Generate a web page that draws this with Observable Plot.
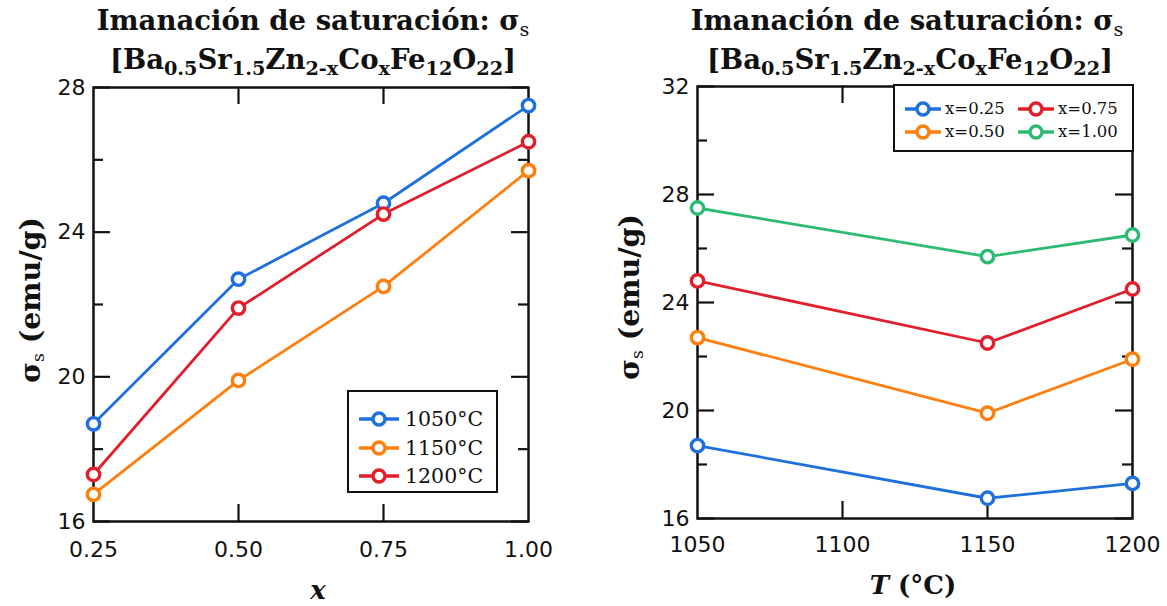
<!DOCTYPE html>
<html>
<head>
<meta charset="utf-8">
<script src="https://cdn.jsdelivr.net/npm/d3@7"></script>
<script src="https://cdn.jsdelivr.net/npm/@observablehq/plot@0.6"></script>
<style>
  html, body { margin: 0; padding: 0; background: #fff; }
  #fig { position: relative; width: 1167px; height: 606px; overflow: hidden; background: #fff; }
  .panel { position: absolute; top: 0; }
  .t { position: absolute; font-family: "DejaVu Serif", serif; font-weight: bold; color: #111;
       white-space: nowrap; transform: translateX(-50%); line-height: 1; }
  .t sub { font-size: 0.7em; vertical-align: -0.3em; line-height: 0; }
  .t sub.n { font-weight: normal; }
  .ylab { position: absolute; font-family: "DejaVu Serif", serif; font-weight: bold; color: #111;
          white-space: nowrap; font-size: 28.5px; line-height: 1; transform: translate(-50%, -50%) rotate(-90deg); }
  .ylab sub { font-size: 0.6em; vertical-align: -0.25em; line-height: 0; font-weight: normal; }
  .xlab { position: absolute; font-family: "DejaVu Serif", serif; font-weight: bold; color: #111;
          white-space: nowrap; font-size: 26px; line-height: 1; transform: translate(-50%, -50%); }
  .legend { position: absolute; background: #fff; border: 2px solid #111; box-sizing: border-box; }
  .item { position: absolute; display: flex; align-items: center; font-family: "DejaVu Serif", serif;
          color: #111; white-space: nowrap; line-height: 1; }
  .item svg { display: block; }
</style>
</head>
<body>
<div id="fig"></div>
<script>
// ---- data ----
const xValues = [0.25, 0.50, 0.75, 1.00];
const temps = [1050, 1150, 1200];
const tempLabels = ["1050°C", "1150°C", "1200°C"];
const xLabels = ["x=0.25", "x=0.50", "x=0.75", "x=1.00"];
const sigma1050 = [18.7, 22.7, 24.8, 27.5];
const sigma1150 = [16.75, 19.9, 22.5, 25.7];
const sigma1200 = [17.3, 21.9, 24.5, 26.5];
const leftColors = ["#1f70dd", "#ff7f0e", "#e01f2b"];
const rightColors = ["#1f70dd", "#ff7f0e", "#e01f2b", "#2dbb73"];
const leftXTicks = [0.25, 0.50, 0.75, 1.00];
const leftYMajor = [16, 20, 24, 28];
const leftYMinor = [18, 22, 26];
const rightXTicks = [1050, 1100, 1150, 1200];
const rightYMajor = [16, 20, 24, 28, 32];
const rightYMinor = [18, 22, 26, 30];

const bySeries = [sigma1050, sigma1150, sigma1200];
const leftData = [];
bySeries.forEach((vals, i) => vals.forEach((v, j) => leftData.push({x: xValues[j], y: v, s: tempLabels[i]})));
const rightData = [];
xValues.forEach((xv, j) => bySeries.forEach((vals, i) => rightData.push({t: temps[i], y: vals[j], s: xLabels[j]})));

const fig = document.getElementById("fig");
const tickFont = {fontFamily: "'DejaVu Sans', sans-serif", fontSize: "22px", color: "#111", background: "transparent"};

function ticksMarks(W, H, xInner, yMajor, yMinor) {
  const sw = 2.2, maj = 17, min = 10;
  return [
    Plot.tickY(yMajor, {y: d => d, insetRight: W - maj, stroke: "#111", strokeWidth: sw}),
    Plot.tickY(yMajor, {y: d => d, insetLeft: W - maj, stroke: "#111", strokeWidth: sw}),
    Plot.tickY(yMinor, {y: d => d, insetRight: W - min, stroke: "#111", strokeWidth: sw}),
    Plot.tickY(yMinor, {y: d => d, insetLeft: W - min, stroke: "#111", strokeWidth: sw}),
    Plot.tickX(xInner, {x: d => d, insetTop: H - maj, stroke: "#111", strokeWidth: sw}),
    Plot.tickX(xInner, {x: d => d, insetBottom: H - maj, stroke: "#111", strokeWidth: sw})
  ];
}

// ---- left panel ----
{
  const width = 580, height = 606, mL = 93, mR = 52, mT = 87, mB = 85;
  const W = width - mL - mR, H = height - mT - mB;
  const p = Plot.plot({
    width, height, marginLeft: mL, marginRight: mR, marginTop: mT, marginBottom: mB,
    style: tickFont,
    x: {domain: [0.25, 1.0]},
    y: {domain: [16, 28]},
    color: {domain: tempLabels, range: leftColors},
    marks: [
      ...ticksMarks(W, H, [0.50, 0.75], leftYMajor, leftYMinor),
      Plot.axisX(leftXTicks, {tickSize: 0, tickPadding: 20, tickFormat: d3.format(".2f"), label: null}),
      Plot.axisY(leftYMajor, {tickSize: 0, tickPadding: 8, label: null}),
      Plot.frame({stroke: "#111", strokeWidth: 2.5}),
      Plot.line(leftData, {x: "x", y: "y", z: "s", stroke: "s", strokeWidth: 2.8}),
      Plot.dot(leftData, {x: "x", y: "y", stroke: "s", fill: "white", r: 6.2, strokeWidth: 3.4})
    ]
  });
  p.classList.add("panel");
  p.style.left = "0px";
  fig.appendChild(p);
}

// ---- right panel ----
{
  const width = 587, height = 606, mL = 117, mR = 35, mT = 86, mB = 88;
  const W = width - mL - mR, H = height - mT - mB;
  const p = Plot.plot({
    width, height, marginLeft: mL, marginRight: mR, marginTop: mT, marginBottom: mB,
    style: tickFont,
    x: {domain: [1050, 1200]},
    y: {domain: [16, 32]},
    color: {domain: xLabels, range: rightColors},
    marks: [
      ...ticksMarks(W, H, [1100, 1150], rightYMajor, rightYMinor),
      Plot.axisX(rightXTicks, {tickSize: 0, tickPadding: 18, tickFormat: d3.format("d"), label: null}),
      Plot.axisY(rightYMajor, {tickSize: 0, tickPadding: 8, label: null}),
      Plot.frame({stroke: "#111", strokeWidth: 2.5}),
      Plot.line(rightData, {x: "t", y: "y", z: "s", stroke: "s", strokeWidth: 2.8}),
      Plot.dot(rightData, {x: "t", y: "y", stroke: "s", fill: "white", r: 6.2, strokeWidth: 3.4})
    ]
  });
  p.classList.add("panel");
  p.style.left = "580px";
  fig.appendChild(p);
}

// ---- text: titles & axis labels ----
const titleL1 = 'Imanación de saturación: σ<sub class="n">s</sub>';
const titleL2 = '[Ba<sub>0.5</sub>Sr<sub>1.5</sub>Zn<sub>2-x</sub>Co<sub>x</sub>Fe<sub>12</sub>O<sub>22</sub>]';
function addDiv(cls, html, css) {
  const d = document.createElement("div");
  d.className = cls; d.innerHTML = html;
  Object.assign(d.style, css);
  fig.appendChild(d);
  return d;
}
addDiv("t", titleL1, {left: "313px", top: "7px", fontSize: "27.5px"});
addDiv("t", titleL2, {left: "313px", top: "46px", fontSize: "27.5px"});
addDiv("t", titleL1, {left: "907px", top: "7px", fontSize: "27.5px"});
addDiv("t", titleL2, {left: "910px", top: "46px", fontSize: "27.5px"});
addDiv("ylab", 'σ<sub>s</sub>&nbsp;(emu/g)', {left: "30px", top: "300px"});
addDiv("ylab", 'σ<sub>s</sub>&nbsp;(emu/g)', {left: "629px", top: "297px"});
addDiv("xlab", '<i>x</i>', {left: "318px", top: "590px"});
addDiv("xlab", '<i>T</i>&nbsp;(°C)', {left: "913px", top: "585px"});

// ---- legends ----
function swatch(color, w) {
  return `<svg width="${w}" height="20"><line x1="0" y1="10" x2="${w}" y2="10" stroke="${color}" stroke-width="3.5"/>` +
         `<circle cx="${w/2}" cy="10" r="6" fill="white" stroke="${color}" stroke-width="3.4"/></svg>`;
}
const legL = addDiv("legend", "", {left: "347px", top: "390px", width: "151px", height: "103px"});
tempLabels.forEach((lab, i) => {
  const it = document.createElement("div");
  it.className = "item";
  it.style.left = "10px"; it.style.top = (17 + i * 28.5) + "px"; it.style.fontSize = "20.5px";
  it.innerHTML = swatch(leftColors[i], 40) + `<span style="margin-left:6px">${lab}</span>`;
  legL.appendChild(it);
});
const legR = addDiv("legend", "", {left: "893px", top: "84px", width: "241px", height: "68px"});
xLabels.forEach((lab, i) => {
  // x=0.25 (c0,r0), x=0.50 (c0,r1), x=0.75 (c1,r0), x=1.00 (c1,r1)
  const c = i < 2 ? 0 : 1, r = i % 2;
  const it = document.createElement("div");
  it.className = "item";
  it.style.left = (10 + c * 113) + "px"; it.style.top = (13 + r * 23) + "px"; it.style.fontSize = "16.5px";
  it.innerHTML = swatch(rightColors[i], 36) + `<span style="margin-left:4px">${lab}</span>`;
  legR.appendChild(it);
});
</script>
</body>
</html>
